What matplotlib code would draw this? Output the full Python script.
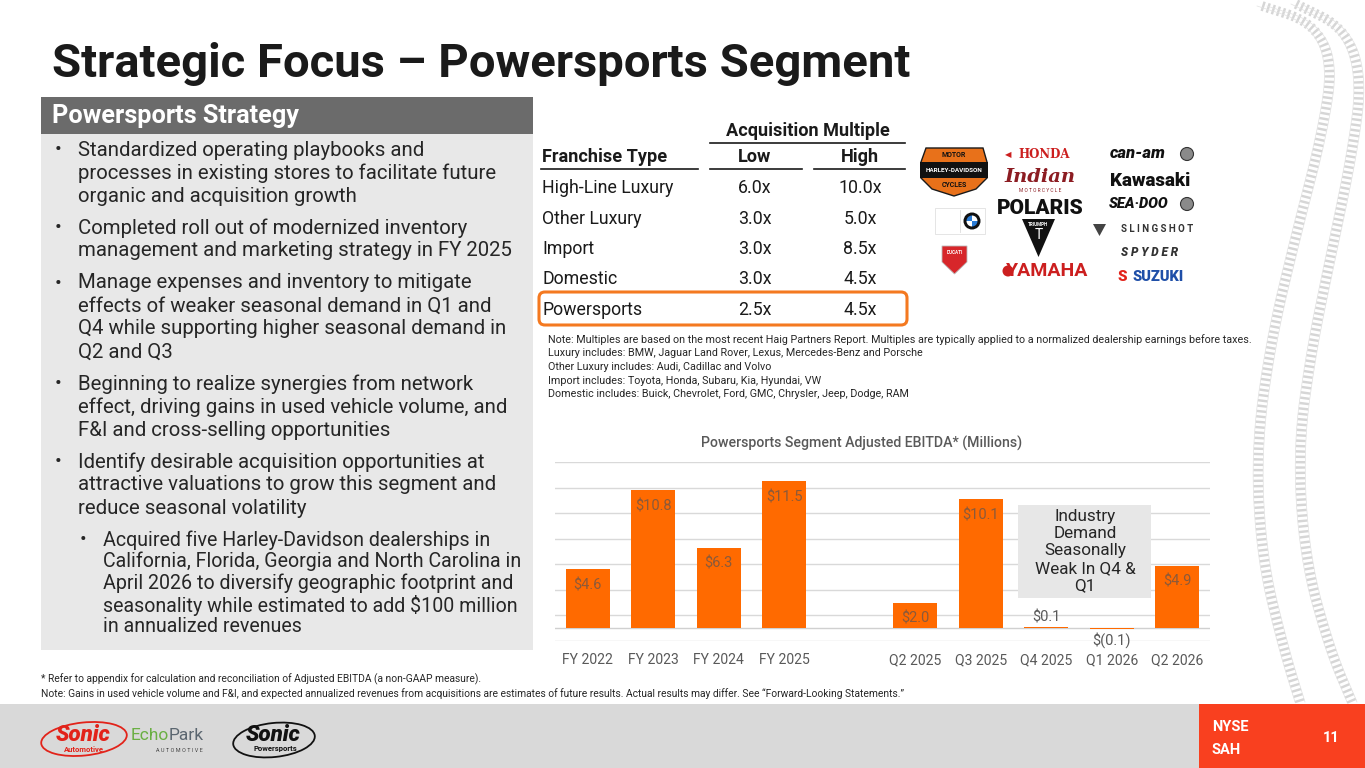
import numpy as np
import matplotlib.pyplot as plt
from matplotlib.patches import Rectangle, FancyBboxPatch, Ellipse, Polygon, Circle, Wedge

plt.rcParams['text.parse_math'] = False

W, H = 1365, 768
BODY = ['Roboto', 'DejaVu Sans']
NARROW = ['Liberation Sans Narrow', 'Roboto', 'DejaVu Sans']

# ---- data -------------------------------------------------------------
categories = ['FY 2022', 'FY 2023', 'FY 2024', 'FY 2025', '',
              'Q2 2025', 'Q3 2025', 'Q4 2025', 'Q1 2026', 'Q2 2026']
ebitda = [4.6, 10.8, 6.3, 11.5, np.nan, 2.0, 10.1, 0.1, -0.1, 4.9]

franchise_types = ['High-Line Luxury', 'Other Luxury', 'Import', 'Domestic', 'Powersports']
low_multiple = [6.0, 3.0, 3.0, 3.0, 2.5]
high_multiple = [10.0, 5.0, 8.5, 4.5, 4.5]

bullets = [
    (0, ['Standardized operating playbooks and',
         'processes in existing stores to facilitate future',
         'organic and acquisition growth']),
    (0, ['Completed roll out of modernized inventory',
         'management and marketing strategy in FY 2025']),
    (0, ['Manage expenses and inventory to mitigate',
         'effects of weaker seasonal demand in Q1 and',
         'Q4 while supporting higher seasonal demand in',
         'Q2 and Q3']),
    (0, ['Beginning to realize synergies from network',
         'effect, driving gains in used vehicle volume, and',
         'F&I and cross-selling opportunities']),
    (0, ['Identify desirable acquisition opportunities at',
         'attractive valuations to grow this segment and',
         'reduce seasonal volatility']),
    (1, ['Acquired five Harley-Davidson dealerships in',
         'California, Florida, Georgia and North Carolina in',
         'April 2026 to diversify geographic footprint and',
         'seasonality while estimated to add $100 million',
         'in annualized revenues']),
]

table_notes = [
    'Note: Multiples are based on the most recent Haig Partners Report. Multiples are typically applied to a normalized dealership earnings before taxes.',
    'Luxury includes: BMW, Jaguar Land Rover, Lexus, Mercedes-Benz and Porsche',
    'Other Luxury includes: Audi, Cadillac and Volvo',
    'Import includes: Toyota, Honda, Subaru, Kia, Hyundai, VW',
    'Domestic includes: Buick, Chevrolet, Ford, GMC, Chrysler, Jeep, Dodge, RAM',
]
footnotes = [
    '* Refer to appendix for calculation and reconciliation of Adjusted EBITDA (a non-GAAP measure).',
    'Note: Gains in used vehicle volume and F&I, and expected annualized revenues from acquisitions are estimates of future results. Actual results may differ. See \u201cForward-Looking Statements.\u201d',
]

ORANGE = '#FF6A00'

fig = plt.figure(figsize=(W / 100, H / 100), dpi=100)
bg = fig.add_axes([0, 0, 1, 1])
bg.set_xlim(0, W)
bg.set_ylim(H, 0)
bg.axis('off')
renderer = fig.canvas.get_renderer()


def fitted(s, width, size=12, **kw):
    t = bg.text(0, 0, s, fontsize=size, **kw)
    w = t.get_window_extent(renderer).width
    t.remove()
    return size * width / w


# ---- decorative tire tracks --------------------------------------------
def chaikin(pts, n=4):
    p = np.asarray(pts, float)
    for _ in range(n):
        q = 0.75 * p[:-1] + 0.25 * p[1:]
        r = 0.25 * p[:-1] + 0.75 * p[1:]
        p = np.vstack([p[0], np.column_stack([q, r]).reshape(-1, 2), p[-1]])
    return p


for pts in ([(1262, 6), (1312, 22), (1333, 62), (1322, 135), (1296, 235), (1271, 340),
             (1256, 450), (1262, 560), (1284, 650), (1300, 702)],
            [(1296, 4), (1345, 28), (1362, 78), (1352, 155), (1331, 255), (1311, 352),
             (1298, 450), (1305, 560), (1330, 650), (1352, 702)]):
    c = chaikin(pts)
    bg.plot(c[:, 0], c[:, 1], color='#d6d6d6', lw=7, dashes=(0.25, 0.3),
            solid_capstyle='butt', zorder=0)
    bg.plot(c[:, 0] - 5, c[:, 1], color='#e2e2e2', lw=0.5, zorder=0)
    bg.plot(c[:, 0] + 5, c[:, 1], color='#e2e2e2', lw=0.5, zorder=0)

# ---- title -------------------------------------------------------------
title = 'Strategic Focus \u2013 Powersports Segment'
bg.text(52, 77, title, fontsize=fitted(title, 858, family=BODY, weight='bold'),
        family=BODY, weight='bold', color='#1a1a1a', va='baseline')

# ---- left strategy panel -----------------------------------------------
bg.add_patch(Rectangle((41, 97), 492, 37, color='#6b6b6b', lw=0))
bg.add_patch(Rectangle((41, 134), 492, 516, color='#e8e8e8', lw=0))
bg.text(52, 116, 'Powersports Strategy', family=BODY, weight='bold', color='white',
        va='center', fontsize=fitted('Powersports Strategy', 247, family=BODY, weight='bold'))

bsize = fitted('processes in existing stores to facilitate future', 417, family=BODY)
ssize = fitted('California, Florida, Georgia and North Carolina in', 417, family=BODY)
y = 150
for level, lines in bullets:
    bx, tx, step, size = (55, 78, 23, bsize) if level == 0 else (80, 103, 21.7, ssize)
    bg.text(bx, y, '\u2022', family=BODY, fontsize=size, color='#262626', va='center')
    for ln in lines:
        bg.text(tx, y, ln, family=BODY, fontsize=size, color='#262626', va='center')
        y += step
    y += 9

# ---- acquisition multiple table ----------------------------------------
hsize = fitted('Franchise Type', 125, family=BODY, weight='bold')
tsize = fitted('High-Line Luxury', 131, family=BODY)
bg.text(808, 131, 'Acquisition Multiple', family=BODY, weight='bold', fontsize=hsize,
        ha='center', va='center', color='#1a1a1a')
bg.plot([710, 905], [142.5, 142.5], color='#1a1a1a', lw=1.2)
bg.text(542, 157, 'Franchise Type', family=BODY, weight='bold', fontsize=hsize,
        va='center', color='#1a1a1a')
bg.text(755, 157, 'Low', family=BODY, weight='bold', fontsize=hsize,
        ha='center', va='center', color='#1a1a1a')
bg.text(860, 157, 'High', family=BODY, weight='bold', fontsize=hsize,
        ha='center', va='center', color='#1a1a1a')
for x0, x1 in [(541, 698), (710, 802), (814, 905)]:
    bg.plot([x0, x1], [169, 169], color='#1a1a1a', lw=1.2)
for i, (name, lo, hi) in enumerate(zip(franchise_types, low_multiple, high_multiple)):
    ry = 188 + 30.5 * i
    bg.text(542, ry, name, family=BODY, fontsize=tsize, va='center', color='#1a1a1a')
    bg.text(755, ry, f'{lo:.1f}x', family=BODY, fontsize=tsize, ha='center', va='center', color='#1a1a1a')
    bg.text(860, ry, f'{hi:.1f}x', family=BODY, fontsize=tsize, ha='center', va='center', color='#1a1a1a')
bg.add_patch(FancyBboxPatch((539, 292), 368, 33, boxstyle='round,pad=0,rounding_size=6',
                            fc='none', ec='#F47920', lw=2.2))

nsize = fitted(table_notes[0], 700, family=NARROW)
for i, ln in enumerate(table_notes):
    bg.text(548, 340 + 13.5 * i, ln, family=NARROW, fontsize=nsize, va='center', color='#262626')

# ---- brand logos (text approximations) ---------------------------------
bg.add_patch(Polygon([(926, 148), (983, 148), (987, 162), (987, 178), (976, 189), (954, 196),
                      (932, 189), (921, 178), (921, 162)], closed=True, fc='#E8711A', ec='#1a1a1a', lw=1))
bg.add_patch(Rectangle((920, 162), 68, 16, fc='#111111', lw=0))
bg.text(954, 170, 'HARLEY-DAVIDSON', family=NARROW, weight='bold', fontsize=4.6, color='white', ha='center', va='center')
bg.text(954, 155, 'MOTOR', family=NARROW, weight='bold', fontsize=5, color='#111111', ha='center', va='center')
bg.text(954, 185, 'CYCLES', family=NARROW, weight='bold', fontsize=5, color='#111111', ha='center', va='center')

bg.text(1044, 155, 'HONDA', family=['DejaVu Serif'], weight='bold', fontsize=8.5, color='#CC1F1F', ha='center', va='center')
bg.text(1008, 155, '\u25C0', family=['DejaVu Sans'], fontsize=6, color='#CC1F1F', ha='center', va='center')
bg.text(1040, 177, 'Indian', family=['DejaVu Serif'], style='italic', weight='bold', fontsize=14, color='#8C1C22', ha='center', va='center')
bg.text(1040, 191, 'M O T O R C Y C L E', family=BODY, fontsize=3.5, color='#8C1C22', ha='center', va='center')
bg.text(1040, 208, 'POLARIS', family=BODY, weight='black', fontsize=15, color='#111111', ha='center', va='center')
bg.add_patch(Polygon([(1022, 219), (1055, 219), (1038.5, 257)], closed=True, fc='#111111', lw=0))
bg.text(1038.5, 224, 'TRIUMPH', family=BODY, weight='bold', fontsize=3.3, color='white', ha='center', va='center')
bg.text(1038.5, 235, 'T', family=BODY, fontsize=10, color='white', ha='center', va='center')
bg.add_patch(Circle((1008, 271), 5.5, fc='#CC1F1F', lw=0))
bg.text(1047, 271, 'YAMAHA', family=NARROW, weight='bold', fontsize=14, color='#CC1F1F', ha='center', va='center')

bg.add_patch(Rectangle((935, 208), 50, 26, fc='white', ec='#e0e0e0', lw=0.6))
bg.plot([960, 960], [210, 232], color='#dddddd', lw=0.6)
bg.add_patch(Circle((972, 221), 8.5, fc='#111111', lw=0))
for k, col in enumerate(['#2a7bd4', 'white', '#2a7bd4', 'white']):
    bg.add_patch(Wedge((972, 221), 5.5, 90 * k, 90 * (k + 1), fc=col, lw=0))
bg.add_patch(Polygon([(942, 246), (967, 246), (967, 262), (954.5, 274), (942, 262)], closed=True,
                     fc='#D7262A', ec='#bbbbbb', lw=0.6))
bg.text(954.5, 252, 'DUCATI', family=BODY, weight='bold', fontsize=3.3, color='white', ha='center', va='center')

bg.text(1138, 154, 'can-am', family=BODY, weight='black', style='italic', fontsize=12, color='#111111', ha='center', va='center')
bg.add_patch(Circle((1187, 154), 6.5, fc='#8a8a8a', ec='#333333', lw=0.8))
bg.text(1150, 181, 'Kawasaki', family=BODY, weight='black', fontsize=13.5, color='#111111', ha='center', va='center')
bg.text(1139, 204, 'SEA\u00b7DOO', family=BODY, weight='black', style='italic', fontsize=10.5, color='#111111', ha='center', va='center')
bg.add_patch(Circle((1187, 204), 6.5, fc='#8a8a8a', ec='#333333', lw=0.8))
bg.add_patch(Polygon([(1093, 224), (1106, 224), (1099.5, 236)], closed=True, fc='#444444', lw=0))
bg.text(1157, 229, 'S L I N G S H O T', family=BODY, weight='bold', fontsize=7, color='#333333', ha='center', va='center')
bg.text(1150, 252, 'S P Y D E R', family=BODY, weight='black', style='italic', fontsize=8.5, color='#333333', ha='center', va='center')
bg.text(1122, 277, 'S', family=BODY, weight='black', fontsize=11, color='#E2231A', ha='center', va='center')
bg.text(1158, 277, 'SUZUKI', family=BODY, weight='black', fontsize=10.5, color='#1F4FA8', ha='center', va='center')

# ---- EBITDA chart ------------------------------------------------------
bg.text(862, 443, 'Powersports Segment Adjusted EBITDA* (Millions)', family=BODY, weight='medium',
        color='#595959', ha='center', va='center',
        fontsize=fitted('Powersports Segment Adjusted EBITDA* (Millions)', 320, family=BODY, weight='medium'))

ax = fig.add_axes([555 / W, 1 - 641 / H, 655 / W, 179 / H])
ax.patch.set_alpha(0)
x = np.arange(len(categories))
ax.bar(x, ebitda, width=0.67, color=ORANGE, zorder=2)
ax.set_yticks(np.arange(-1, 14, 2))
ax.yaxis.grid(True, color='#d9d9d9', lw=1)
ax.set_axisbelow(True)
ax.axhline(0, color='#d0d0d0', lw=1, zorder=1)
for s in ax.spines.values():
    s.set_visible(False)
ax.tick_params(axis='y', length=0, labelleft=False)
lsize = fitted('FY 2022', 51, family=BODY)
ax.set_xticks(x, categories)
ax.tick_params(axis='x', length=0, pad=9, labelsize=lsize, labelcolor='#595959')
for lab in ax.get_xticklabels():
    lab.set_family(BODY)

for xi, v in zip(x, ebitda):
    if np.isnan(v):
        continue
    txt = f'${v:.1f}' if v >= 0 else f'$({abs(v):.1f})'
    if v >= 1:
        off, col = -16, '#8b5a3a'
    elif v >= 0:
        off, col = 9, '#595959'
    else:
        off, col = -11, '#595959'
    ax.annotate(txt, (xi, v), xytext=(0, off * 0.72), textcoords='offset points',
                ha='center', va='center', fontsize=lsize * 1.05, family=BODY, color=col, zorder=4)

box = Rectangle((1018, 505), 133, 93, fc='#e7e7e7', lw=0, transform=bg.transData, zorder=3)
ax.add_patch(box)
ax.text(1085, 551, 'Industry\nDemand\nSeasonally\nWeak In Q4 &\nQ1', transform=bg.transData,
        ha='center', va='center', family=BODY, color='#262626', linespacing=1.2, zorder=4,
        fontsize=fitted('Seasonally', 82, family=BODY))
ax.set_xlim(-0.5, len(categories) - 0.5)
ax.set_ylim(-1, 13)

# ---- footnotes ---------------------------------------------------------
fsize = fitted(footnotes[1], 864, family=NARROW)
for i, ln in enumerate(footnotes):
    bg.text(41, 679 + 15 * i, ln, family=NARROW, fontsize=fsize, va='center', color='#262626')

# ---- footer ------------------------------------------------------------
bg.add_patch(Rectangle((0, 704), 1199, 64, fc='#d9d9d9', lw=0))
bg.add_patch(Rectangle((1199, 704), 166, 64, fc='#F9401F', lw=0))
bg.text(1212, 727, 'NYSE', family=BODY, weight='bold', fontsize=10.5, color='white', va='center')
bg.text(1212, 750, 'SAH', family=BODY, weight='bold', fontsize=10.5, color='white', va='center')
bg.text(1331, 738, '11', family=BODY, weight='bold', fontsize=10.5, color='white', ha='center', va='center')

bg.add_patch(Ellipse((84, 739), 86, 33, angle=-6, fc='none', ec='#E2231A', lw=1.3))
bg.text(83, 735, 'Sonic', family=BODY, weight='black', style='italic', fontsize=16, color='#E2231A', ha='center', va='center')
bg.text(84, 749, 'Automotive', family=BODY, weight='bold', fontsize=5.5, color='#E2231A', ha='center', va='center')
bg.text(169, 735, 'Echo', family=BODY, fontsize=12.5, color='#6AAF43', ha='right', va='center')
bg.text(169, 735, 'Park', family=BODY, fontsize=12.5, color='#5b6670', ha='left', va='center')
bg.text(179, 751, 'A U T O M O T I V E', family=BODY, fontsize=4, color='#444444', ha='center', va='center')
bg.add_patch(Ellipse((274, 740), 82, 34, angle=-6, fc='none', ec='#111111', lw=1.3))
bg.text(273, 735, 'Sonic', family=BODY, weight='black', style='italic', fontsize=16, color='#111111', ha='center', va='center')
bg.text(275, 749, 'Powersports', family=BODY, weight='bold', fontsize=5.5, color='#111111', ha='center', va='center')

fig.savefig('out.png', dpi=100)
